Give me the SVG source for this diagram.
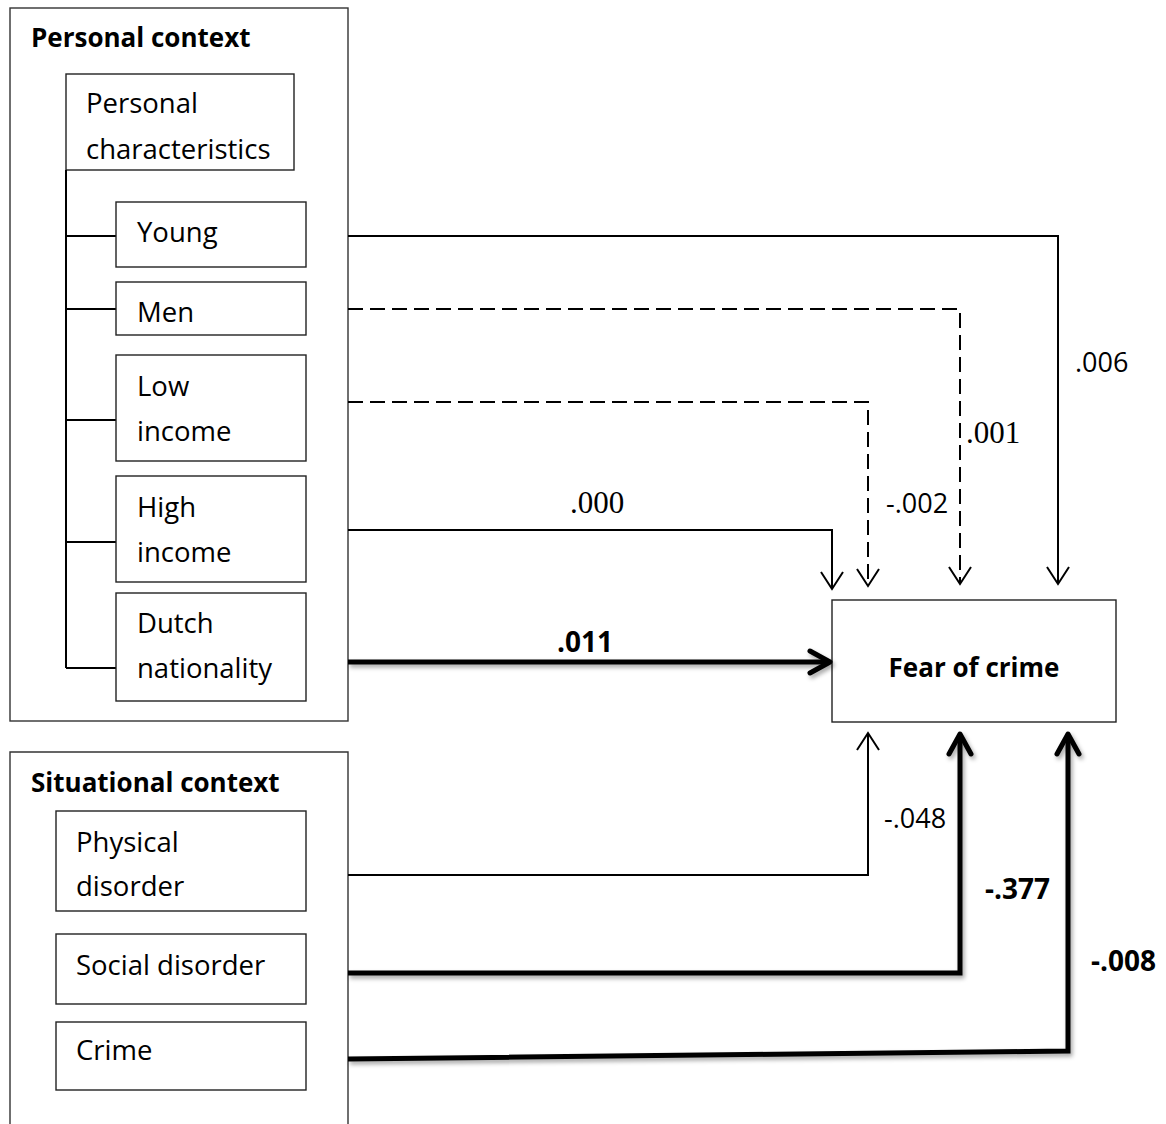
<svg xmlns="http://www.w3.org/2000/svg" width="1166" height="1124" viewBox="0 0 1166 1124">
  <style>
    .frame { fill: none; stroke: #333; stroke-width: 1.4; }
    .box { fill: #fff; stroke: #222; stroke-width: 1.4; }
    .lbl { font-family: "Open Sans", "Noto Sans", sans-serif; font-size: 27.5px; fill: #000; }
    .hdr { font-family: "Open Sans", "Noto Sans", sans-serif; font-size: 26px; font-weight: bold; fill: #000; }
    .num { font-family: "Open Sans", "Noto Sans", sans-serif; font-size: 27px; fill: #000; }
    .numb { font-family: "Open Sans", "Noto Sans", sans-serif; font-size: 28px; font-weight: bold; fill: #000; }
    .nums { font-family: "Liberation Serif", "Times New Roman", serif; font-size: 31px; fill: #000; }
    .tree { fill: none; stroke: #000; stroke-width: 2; }
    .thin { fill: none; stroke: #000; stroke-width: 2; marker-end: url(#openArrow); }
    .dash { fill: none; stroke: #000; stroke-width: 2; stroke-dasharray: 15 7; marker-end: url(#openArrow); }
    .thick { fill: none; stroke: #000; stroke-width: 5; marker-end: url(#boldArrow); }
  </style>
  <defs>
    <marker id="openArrow" markerUnits="userSpaceOnUse" viewBox="-20 -14 24 28" refX="0" refY="0" markerWidth="24" markerHeight="28" orient="auto">
      <path d="M -17 -11 L 0 0 L -17 11" fill="none" stroke="#000" stroke-width="2"/>
    </marker>
    <marker id="boldArrow" markerUnits="userSpaceOnUse" viewBox="-26 -16 30 32" refX="0" refY="0" markerWidth="30" markerHeight="32" orient="auto">
      <path d="M -20 -11 L 0 0 L -20 11" fill="none" stroke="#000" stroke-width="5" stroke-linecap="round" stroke-linejoin="round"/>
    </marker>
    <filter id="shadow" x="-5%" y="-20%" width="110%" height="140%">
      <feDropShadow dx="2" dy="3" stdDeviation="2" flood-color="#000" flood-opacity="0.35"/>
    </filter>
  </defs>
  <rect width="1166" height="1124" fill="#fff"/>

  <!-- Personal context frame -->
  <g id="personal-context">
    <rect class="frame" x="10" y="8" width="338" height="713"/>
    <text class="hdr" x="31" y="47">Personal context</text>
  </g>

  <!-- Situational context frame (runs off the bottom edge) -->
  <g id="situational-context">
    <path class="frame" d="M 10 1130 L 10 752 L 348 752 L 348 1130"/>
    <text class="hdr" x="31" y="792">Situational context</text>
  </g>

  <g id="personal-characteristics">
    <rect class="box" x="66" y="74" width="228" height="96"/>
    <text class="lbl" x="86" y="113">Personal</text>
    <text class="lbl" x="86" y="159">characteristics</text>
  </g>

  <!-- tree linking the characteristics -->
  <g id="tree">
    <path class="tree" d="M 66 170 L 66 668 M 66 236 L 116 236 M 66 309 L 116 309 M 66 420 L 116 420 M 66 542 L 116 542 M 66 668 L 116 668"/>
  </g>

  <g id="young">
    <rect class="box" x="116" y="202" width="190" height="65"/>
    <text class="lbl" x="137" y="242">Young</text>
  </g>
  <g id="men">
    <rect class="box" x="116" y="282" width="190" height="53"/>
    <text class="lbl" x="137" y="322">Men</text>
  </g>
  <g id="low-income">
    <rect class="box" x="116" y="355" width="190" height="106"/>
    <text class="lbl" x="137" y="396">Low</text>
    <text class="lbl" x="137" y="441">income</text>
  </g>
  <g id="high-income">
    <rect class="box" x="116" y="476" width="190" height="106"/>
    <text class="lbl" x="137" y="517">High</text>
    <text class="lbl" x="137" y="562">income</text>
  </g>
  <g id="dutch-nationality">
    <rect class="box" x="116" y="593" width="190" height="108"/>
    <text class="lbl" x="137" y="633">Dutch</text>
    <text class="lbl" x="137" y="678">nationality</text>
  </g>

  <g id="physical-disorder">
    <rect class="box" x="56" y="811" width="250" height="100"/>
    <text class="lbl" x="76" y="852">Physical</text>
    <text class="lbl" x="76" y="896">disorder</text>
  </g>
  <g id="social-disorder">
    <rect class="box" x="56" y="934" width="250" height="70"/>
    <text class="lbl" x="76" y="975">Social disorder</text>
  </g>
  <g id="crime">
    <rect class="box" x="56" y="1022" width="250" height="68"/>
    <text class="lbl" x="76" y="1060">Crime</text>
  </g>

  <g id="fear-of-crime">
    <rect class="box" x="832" y="600" width="284" height="122"/>
    <text class="hdr" x="974" y="677" text-anchor="middle">Fear of crime</text>
  </g>

  <!-- paths into Fear of crime -->
  <g id="connectors">
    <path class="thin" d="M 348 236 L 1058 236 L 1058 584"/>
    <path class="dash" d="M 348 309 L 960 309 L 960 584"/>
    <path class="dash" d="M 348 402 L 868 402 L 868 586"/>
    <path class="thin" d="M 348 530 L 832 530 L 832 589"/>
    <path class="thin" d="M 348 875 L 868 875 L 868 733"/>
    <g filter="url(#shadow)">
      <path class="thick" d="M 348 662 L 830 662"/>
      <path class="thick" d="M 348 973 L 960 973 L 960 734"/>
      <path class="thick" d="M 348 1059 L 1068 1051 L 1068 734"/>
    </g>
  </g>

  <!-- coefficients -->
  <g id="coefficients">
    <text class="num" x="1075" y="372">.006</text>
    <text class="nums" x="966" y="443">.001</text>
    <text class="num" x="886" y="513">-.002</text>
    <text class="nums" x="570" y="513">.000</text>
    <text class="numb" x="557" y="652">.011</text>
    <text class="numb" x="985" y="899">-.377</text>
    <text class="num" x="884" y="828">-.048</text>
    <text class="numb" x="1091" y="971">-.008</text>
  </g>
</svg>
